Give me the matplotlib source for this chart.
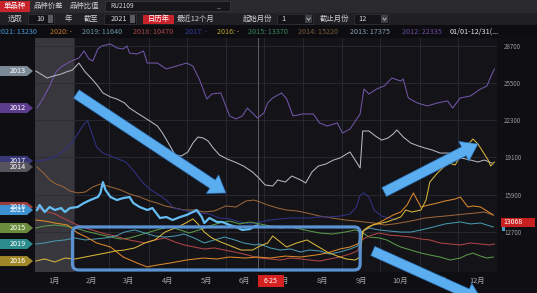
import matplotlib
matplotlib.use("Agg")
import matplotlib.pyplot as plt
from matplotlib.patches import Rectangle, Polygon, FancyArrowPatch, FancyBboxPatch

plt.rcParams['font.family'] = ['Noto Sans CJK SC', 'DejaVu Sans']

# ---- data (day of year, price) ----
days_2012 = [2, 6, 9, 12, 14, 17, 21, 26, 31, 35, 39, 43, 46, 50, 53, 60, 65, 70, 73, 75,
             81, 86, 89, 97, 104, 112, 120, 125, 130, 136, 140, 147, 154, 159, 164, 168, 176, 181, 184, 188,
             195, 199, 204, 212, 220, 225, 231, 239, 243, 249, 257, 260, 264, 270, 276, 282, 289, 291, 295, 302,
             310, 318, 326, 330, 336, 344, 352, 357, 361, 363]
price_2012 = [23360, 24040, 24660, 25260, 25780, 26470, 26900, 27240, 27500, 27670,
              28280, 27590, 27410, 28450, 28710, 28880, 28540, 28450, 28710, 28100,
              28020, 28280, 27240, 27240, 26730, 26980, 27240, 26980, 25860, 24140,
              24570, 24660, 22680, 22420, 22680, 23360, 22500, 22930, 23800, 24230,
              24660, 24140, 22680, 22850, 22850, 22070, 21810, 22070, 21210, 21550,
              22850, 25000, 24570, 25000, 25260, 25950, 25690, 25860, 24230, 23800,
              23540, 23800, 23970, 23360, 24230, 24400, 25000, 25260, 26290, 26730]

days_2013 = [1, 5, 10, 15, 21, 25, 30, 35, 40, 46, 50, 54, 60, 65, 71, 75, 81, 86, 91, 97,
             101, 107, 111, 116, 121, 125, 129, 133, 137, 141, 146, 152, 158, 165, 172, 177, 182, 188, 192, 198,
             203, 210, 214, 219, 224, 230, 236, 241, 249, 253, 257, 259, 264, 269, 274, 279, 283, 286, 291, 297,
             303, 308, 314, 320, 327, 332, 337, 344, 350, 355, 361]
price_2013 = [26550, 26290, 25950, 26120, 26290, 26470, 26640, 27240, 26470, 25780,
              25260, 24660, 24310, 24140, 23800, 23360, 22930, 22590, 22240, 21810,
              21210, 20090, 19310, 19230, 19570, 20340, 20860, 20780, 20520, 19920,
              19310, 18970, 18710, 18360, 17850, 17330, 16730, 16640, 17160, 16980,
              17500, 17160, 16900, 17850, 18360, 18540, 18880, 19050, 19570, 18880,
              18190, 21380, 21380, 20950, 20600, 20780, 21120, 21470, 20860, 20340,
              20090, 19920, 19740, 19480, 19480, 19310, 19050, 18880, 18710, 18880, 18620]

days_2014 = [2, 8, 12, 17, 23, 28, 34, 40, 46, 52, 60, 68, 75, 83, 91, 97, 103, 111, 118, 126,
             134, 142, 151, 159, 167, 173, 178, 184, 192, 199, 207, 215, 225, 235, 245, 254, 260, 268, 276, 284,
             293, 301, 308, 316, 324, 332, 340, 348, 355, 362]
price_2014 = [18280, 17670, 17160, 16810, 16560, 16210, 16040, 16120, 16560, 16810,
              16560, 16300, 15950, 15690, 15350, 15170, 14920, 14740, 14570, 14570,
              14400, 14490, 14920, 14830, 15350, 15430, 15260, 15000, 14740, 14570,
              14490, 14310, 14050, 13880, 13710, 13620, 13540, 13450, 13280, 13370,
              13540, 13710, 13880, 13970, 14050, 14140, 14230, 14310, 14400, 14140]

days_2015 = [1, 8, 16, 24, 32, 40, 50, 60, 68, 75, 83, 91, 99, 107, 115, 122, 130, 138, 146, 154,
             162, 170, 178, 186, 194, 202, 210, 217, 225, 235, 245, 253, 258, 264, 272, 278, 284, 289, 297, 305,
             312, 320, 328, 336, 341, 346, 352, 357, 362]
price_2015 = [13020, 13190, 13280, 13190, 13020, 12760, 12500, 12240, 12070, 12160,
              12410, 12670, 12930, 13110, 12850, 12590, 12850, 13190, 13450, 13620,
              13370, 13540, 13370, 13190, 13020, 13110, 12930, 12760, 12590, 12500,
              12670, 12850, 12670, 12240, 12160, 11990, 11640, 11380, 11120, 10860,
              10690, 10520, 10260, 10430, 10690, 10860, 10600, 10430, 10520]

days_2016 = [1, 8, 16, 24, 32, 40, 48, 56, 64, 71, 79, 87, 95, 103, 111, 118, 125, 129, 134, 140,
             147, 155, 163, 172, 178, 184, 188, 194, 199, 207, 215, 223, 231, 239, 246, 253, 257, 259, 267, 278,
             289, 293, 298, 305, 309, 312, 318, 323, 327, 332, 336, 341, 346, 350, 354, 358, 360, 363]
price_2016 = [10170, 10350, 10090, 10430, 10350, 10520, 10690, 10860, 11040, 11120,
              11300, 11730, 11990, 12670, 13020, 13370, 13800, 13370, 12670, 12160,
              11810, 11470, 11120, 11120, 11470, 11730, 12330, 11810, 11380, 11730,
              11990, 11470, 10950, 10600, 10350, 10260, 10520, 12760, 13280, 13540,
              13970, 14570, 14400, 14570, 15430, 16980, 17760, 18280, 18620, 18450,
              19230, 20090, 20690, 20260, 19570, 18880, 18360, 18710]

days_2017 = [1, 8, 16, 24, 30, 35, 39, 42, 45, 49, 54, 60, 66, 72, 79, 85, 91, 97, 104, 110,
             117, 124, 130, 138, 146, 154, 162, 170, 178, 186, 194, 202, 210, 217, 225, 233, 241, 249, 254, 257,
             260, 264, 268, 274, 280, 286]
price_2017 = [18800, 18880, 19140, 19740, 20430, 21290, 21980, 22240, 21290, 20000,
              19480, 19230, 18970, 18710, 17850, 16980, 16380, 15950, 15430, 14740,
              14570, 14400, 14310, 14230, 13880, 13800, 13540, 13370, 13540, 13710,
              13800, 13880, 13880, 13880, 13970, 13970, 14050, 14230, 14830, 15860,
              16040, 15690, 14570, 14050, 13880, 13710]

days_2018 = [1, 8, 16, 24, 32, 40, 48, 56, 64, 71, 79, 87, 95, 103, 111, 118, 126, 134, 142, 150,
             158, 165, 174, 178, 186, 194, 202, 210, 217, 225, 233, 241, 249, 255, 258, 264, 272, 280, 289, 297,
             305, 312, 320, 328, 336, 344, 352, 359, 363]
price_2018 = [14830, 14490, 14230, 13800, 13370, 13020, 12760, 12500, 12330, 12070,
              11900, 11730, 11990, 12160, 11810, 11560, 11380, 11210, 11300, 11120,
              10950, 10780, 10520, 10430, 10350, 10260, 10430, 10350, 10260, 10170,
              10350, 10520, 10780, 11040, 11990, 12330, 12590, 12410, 12330, 12240,
              12070, 11990, 11730, 11640, 11560, 11730, 11640, 11560, 11640]

days_2019 = [1, 8, 16, 24, 32, 40, 48, 56, 64, 71, 79, 87, 95, 103, 111, 118, 126, 134, 142, 150,
             158, 165, 174, 178, 186, 194, 202, 210, 217, 225, 233, 241, 249, 255, 258, 264, 272, 280, 289, 297,
             305, 315, 324, 336, 344, 352, 362]
price_2019 = [11640, 11730, 11900, 11990, 12160, 11990, 12070, 12160, 12330, 12670,
              12850, 12590, 12330, 12240, 12330, 12500, 12160, 11730, 11990, 12240,
              11990, 11730, 11560, 11640, 11300, 11120, 11210, 10950, 11120, 11040,
              10780, 10950, 11210, 11470, 12670, 13020, 12850, 12760, 12670, 12670,
              12850, 13110, 13370, 13540, 13370, 13450, 13110]

days_2020 = [1, 8, 16, 26, 34, 41, 49, 60, 70, 81, 89, 97, 107, 120, 133, 144, 154, 166, 176, 186,
             198, 210, 222, 231, 241, 249, 257, 260, 263, 273, 283, 289, 294, 299, 302, 305, 311, 318, 324, 328,
             332, 336, 339, 342, 346, 352, 357, 362]
price_2020 = [13710, 13620, 13450, 13280, 12590, 12240, 11730, 11380, 10520, 10000,
              9660, 9830, 10000, 10260, 10430, 10350, 10520, 10430, 10520, 10430,
              10600, 10520, 10690, 10860, 11210, 11380, 11730, 12850, 13110, 13540,
              14140, 14400, 15000, 16040, 15430, 14830, 15000, 15170, 15350, 15430,
              15520, 15690, 15260, 14830, 14920, 14830, 14490, 14140]

days_2021 = [2, 4, 8, 12, 16, 21, 24, 28, 34, 39, 44, 50, 52, 54, 56, 60, 65, 70, 75, 78,
             83, 89, 93, 99, 104, 109, 115, 120, 125, 128, 132, 134, 138, 144, 148, 154, 159, 164, 170, 174, 176]
price_2021 = [14570, 15000, 14400, 14830, 14570, 14740, 14400, 14740, 14830, 15170,
              15430, 15690, 16040, 16980, 16300, 15690, 15430, 15600, 15690, 15170,
              14830, 14570, 14740, 13880, 13970, 13710, 13970, 14140, 14400, 14570,
              13970, 13450, 13880, 13540, 13540, 13280, 13110, 12850, 12930, 13190, 13230]

months = ['1月', '2月', '3月', '4月', '5月', '6月', '7月', '8月', '9月', '10月', '11月', '12月']
month_starts = [0, 31, 59, 90, 120, 151, 181, 212, 243, 273, 304, 334, 365]
y_ticks = [12700, 15900, 19100, 22300, 25500, 28700]
cursor_day = 176
cursor_label = '6-25'
last_price = '13068'
legend_values = {'2021': '13230', '2020': '-', '2019': '11640', '2018': '10470', '2017': '-',
                 '2016': '-', '2015': '13370', '2014': '15220', '2013': '17375', '2012': '22335'}

colors = {'2012': '#7256a8', '2013': '#b4b8c2', '2014': '#9a663a', '2015': '#5a9a48',
          '2016': '#d8b63a', '2017': '#323286', '2018': '#b04646', '2019': '#4898ae',
          '2020': '#dc882c', '2021': '#66bdf2'}
legend_colors = {'2012': '#6a4aa0', '2013': '#8aa0b8', '2014': '#7a5a3a', '2015': '#3a8a60',
                 '2016': '#b8a030', '2017': '#3a3aa8', '2018': '#a84848', '2019': '#6a98a8',
                 '2020': '#c8782a', '2021': '#4a9ad8'}
tag_colors = {'2013': '#7c8a98', '2012': '#5c3c8c', '2017': '#383878', '2014': '#58545e',
              '2018': '#9a3c3c', '2021': '#3c90d0', '2015': '#6a8c3c', '2019': '#2c8c8c',
              '2016': '#a08828'}

series = [
    ('2012', days_2012, price_2012), ('2013', days_2013, price_2013),
    ('2014', days_2014, price_2014), ('2017', days_2017, price_2017),
    ('2015', days_2015, price_2015), ('2018', days_2018, price_2018),
    ('2019', days_2019, price_2019), ('2020', days_2020, price_2020),
    ('2016', days_2016, price_2016), ('2021', days_2021, price_2021),
]
first_price = {name: p[0] for name, d, p in series}

# ---- figure ----
W, H = 537, 293
fig = plt.figure(figsize=(W / 100, H / 100), dpi=100)
fig.patch.set_facecolor('#0f0f13')

AX_L, AX_R, AX_T, AX_B = 34.5, 497, 38, 272
ax = fig.add_axes([AX_L / W, 1 - AX_B / H, (AX_R - AX_L) / W, (AX_B - AX_T) / H])
ax.set_facecolor('#131318')
ax.set_xlim(0, 365)
ax.set_ylim(9227, 29397)
for s in ax.spines.values():
    s.set_visible(False)

ax.axvspan(month_starts[0], month_starts[1], color='#37373d', zorder=0.5, lw=0)
for m in month_starts[1:]:
    ax.axvline(m, color='#2c2c34', lw=0.6, zorder=0.6)
for t in y_ticks:
    ax.axhline(t, color='#2c2c34', lw=0.6, zorder=0.6)
ax.axvline(cursor_day, color='#5c5c66', lw=0.7, zorder=0.7)

for name, d, p in series:
    lw = 1.6 if name == '2021' else 0.75
    ax.plot(d, p, color=colors[name], lw=lw, zorder=3 if name == '2021' else 2,
            solid_joinstyle='round')

mids = [(month_starts[i] + month_starts[i + 1]) / 2 for i in range(12)]
ax.set_xticks(mids)
ax.set_xticklabels(months)
ax.tick_params(axis='x', length=0, pad=3.5, labelsize=5.3, labelcolor='#a8a8a8')
ax.yaxis.tick_right()
ax.set_yticks(y_ticks)
ax.set_yticklabels([str(t) for t in y_ticks])
ax.tick_params(axis='y', length=0, pad=5, labelsize=4.5, labelcolor='#9a9a9a')

# ---- overlay in pixel units ----
ov = fig.add_axes([0, 0, 1, 1], zorder=5)
ov.set_xlim(0, W)
ov.set_ylim(H, 0)
ov.axis('off')


def to_px(day, price):
    return ov.transData.inverted().transform(ax.transData.transform((day, price)))


FS = 5.3
# toolbar row 1
ov.add_patch(Rectangle((0, 0), W, 12.5, color='#2a2a2e', lw=0))
ov.add_patch(Rectangle((0, 0.5), 30, 11.5, color='#c8232b', lw=0))
ov.text(15, 6.3, '单品种', color='white', fontsize=FS, ha='center', va='center')
ov.text(48, 6.3, '品种价差', color='#cfcfcf', fontsize=FS, ha='center', va='center')
ov.text(84, 6.3, '品种比值', color='#cfcfcf', fontsize=FS, ha='center', va='center')
ov.add_patch(Rectangle((105, 1.2), 125, 10, facecolor='#17171b', edgecolor='#3a3a40', lw=0.5))
ov.text(110, 6.3, 'RU2109', color='#d0d0d0', fontsize=4.8, ha='left', va='center')
ov.text(219, 6.0, '_', color='#b0b0b0', fontsize=5, ha='center', va='center')

# toolbar row 2
ov.add_patch(Rectangle((0, 12.5), W, 12.5, color='#202024', lw=0))
ov.text(15, 19, '选取', color='#cfcfcf', fontsize=FS, ha='center', va='center')
ov.add_patch(Rectangle((28, 14.3), 26, 9.5, facecolor='#141418', edgecolor='#34343a', lw=0.5))
ov.text(45, 19, '10', color='#d8d8d8', fontsize=FS, ha='right', va='center')
ov.add_patch(Rectangle((48, 15.2), 5, 8, color='#5a5a60', lw=0))
ov.text(68, 19, '年', color='#cfcfcf', fontsize=FS, ha='center', va='center')
ov.text(91, 19, '截至', color='#cfcfcf', fontsize=FS, ha='center', va='center')
ov.add_patch(Rectangle((104, 14.3), 32, 9.5, facecolor='#141418', edgecolor='#34343a', lw=0.5))
ov.text(127, 19, '2021', color='#d8d8d8', fontsize=FS, ha='right', va='center')
ov.add_patch(Rectangle((130, 15.2), 5, 8, color='#5a5a60', lw=0))
ov.add_patch(Rectangle((143, 14.5), 31, 9.5, color='#c8232b', lw=0))
ov.text(158.5, 19, '日历年', color='white', fontsize=FS, ha='center', va='center')
ov.text(196, 19, '最近12个月', color='#cfcfcf', fontsize=FS, ha='center', va='center')
ov.text(258, 19, '起始月份', color='#cfcfcf', fontsize=FS, ha='center', va='center')
for bx, bw, label in [(277, 36, '1'), (354, 35, '12')]:
    ov.add_patch(Rectangle((bx, 14.3), bw, 9.5, facecolor='#141418', edgecolor='#34343a', lw=0.5))
    ov.text(bx + 4, 19, label, color='#d8d8d8', fontsize=FS, ha='left', va='center')
    dx = bx + bw - 8
    ov.add_patch(Rectangle((dx, 15.2), 7, 8, color='#3e3e46', lw=0))
    ov.plot([dx + 1.8, dx + 3.5, dx + 5.2], [18, 20.3, 18], color='#c0c0c8', lw=0.6)
ov.text(334, 19, '截止月份', color='#cfcfcf', fontsize=FS, ha='center', va='center')

# legend row
ov.add_patch(Rectangle((0, 25), W, 13, color='#0d0d11', lw=0))
legend_x = {'2021': -3, '2020': 50, '2019': 82, '2018': 133, '2017': 185, '2016': 217,
            '2015': 248, '2014': 298, '2013': 350, '2012': 402}
for name, x in legend_x.items():
    ov.text(x, 31.5, f'{name}: {legend_values[name]}', color=legend_colors[name],
            fontsize=5.2, ha='left', va='center')
ov.text(450, 31.5, '01/01-12/31(...', color='#e6e6e6', fontsize=5.2, ha='left', va='center')

# left year tags
for name in ['2013', '2012', '2017', '2014', '2018', '2021', '2015', '2019', '2016']:
    y = to_px(0, first_price[name])[1]
    ov.add_patch(Polygon([(0, y - 5), (27, y - 5), (33, y), (27, y + 5), (0, y + 5)],
                         closed=True, color=tag_colors[name], lw=0))
    ov.text(26, y + 0.3, name, color='white', fontsize=5.2, ha='right', va='center')

# cursor date label
cx = to_px(cursor_day, 0)[0]
ov.add_patch(Rectangle((cx, 274.5), 26, 12.5, color='#d42222', lw=0))
ov.text(cx + 13, 281, cursor_label, color='white', fontsize=5, ha='center', va='center')

# right latest-price label
ov.add_patch(Rectangle((501, 217.5), 34, 9, color='#c82020', lw=0))
ov.text(503, 222, last_price, color='white', fontsize=5, ha='left', va='center')
ov.add_patch(Rectangle((502, 227), 3, 4, color='#4aa0c0', lw=0))

# highlight box and arrows
x0, y0 = to_px(30, 13110)
x1, y1 = to_px(257, 9400)
ov.add_patch(FancyBboxPatch((x0, y0), x1 - x0, y1 - y0,
                            boxstyle='round,pad=0,rounding_size=6',
                            facecolor='none', edgecolor='#5a92d2', lw=2.3, zorder=6))

arrows = [((33, 24570), (151, 16040)),
          ((276, 16120), (350, 20260)),
          ((267, 11040), (353, 6810))]
for a, b in arrows:
    pa, pb = to_px(*a), to_px(*b)
    ov.add_patch(FancyArrowPatch(tuple(pa), tuple(pb),
                                 arrowstyle='simple,head_length=1.15,head_width=1.6,tail_width=0.72',
                                 mutation_scale=10, shrinkA=0, shrinkB=0,
                                 facecolor='#5aaef0', edgecolor='#2c6cb0', lw=0.5,
                                 zorder=7, clip_on=False))

fig.savefig('out.png', dpi=100, facecolor=fig.get_facecolor())
